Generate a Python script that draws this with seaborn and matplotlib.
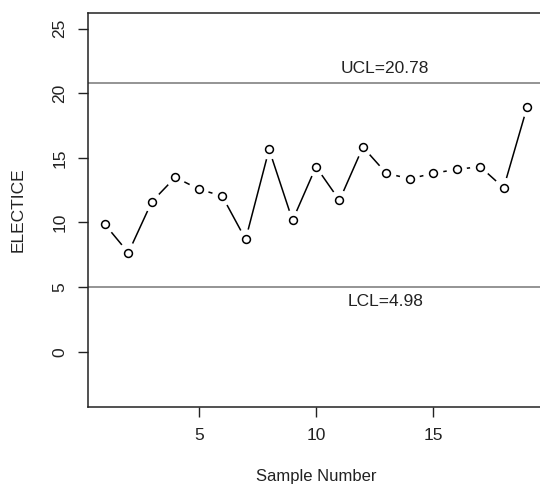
import matplotlib
matplotlib.use("Agg")
import matplotlib.pyplot as plt
import seaborn as sns
import pandas as pd

sample = list(range(1, 20))
electice = [9.85, 7.66, 11.60, 13.49, 12.58, 12.04, 8.69, 15.65, 10.16, 14.31,
            11.71, 15.83, 13.80, 13.38, 13.80, 14.11, 14.31, 12.68, 18.93]
ucl = 20.78
lcl = 4.98
xticks = [5, 10, 15]
yticks = [0, 5, 10, 15, 20, 25]

sns.set_theme(style="white")
plt.rcParams['font.family'] = ['Liberation Sans', 'DejaVu Sans']

df = pd.DataFrame({"Sample Number": sample, "ELECTICE": electice})

fig = plt.figure(figsize=(5.4, 4.84), dpi=100)
ax = fig.add_axes([88/540, 77.3/484, 456/540, 393.7/484])

sns.lineplot(data=df, x="Sample Number", y="ELECTICE", color="black", lw=1.1, ax=ax, zorder=2)
sns.scatterplot(data=df, x="Sample Number", y="ELECTICE", s=215, color="white",
                edgecolor="none", ax=ax, zorder=3)
sns.scatterplot(data=df, x="Sample Number", y="ELECTICE", s=32, facecolor="white",
                edgecolor="black", linewidth=1.1, ax=ax, zorder=4)

ax.axhline(ucl, color="#777777", lw=1.1, zorder=1)
ax.axhline(lcl, color="#777777", lw=1.1, zorder=1)
ax.text(12.95, ucl + 0.55, f"UCL={ucl:.2f}", ha="center", va="bottom", fontsize=12.5, color="#222222")
ax.text(12.95, lcl - 0.5, f"LCL={lcl:.2f}", ha="center", va="top", fontsize=12.5, color="#222222")

ax.set_xlim(0.28, 19.72)
ax.set_ylim(-4.25, 26.2)
ax.set_xticks(xticks)
ax.set_yticks(yticks)
ax.set_xticklabels([str(t) for t in xticks], fontsize=12.5, color="#222222")
ax.set_yticklabels([str(t) for t in yticks], fontsize=12.5, rotation=90, va="center", color="#222222")
ax.tick_params(axis="both", direction="out", length=7, width=1, color="#222222", pad=8,
               bottom=True, left=True)
ax.set_xlabel("Sample Number", fontsize=12, labelpad=19, color="#222222")
ax.set_ylabel("ELECTICE", fontsize=12.5, labelpad=19, color="#222222")
for s in ax.spines.values():
    s.set_color("#222222")
    s.set_linewidth(1.1)
ax.grid(False)

fig.savefig("out.png", dpi=100)
